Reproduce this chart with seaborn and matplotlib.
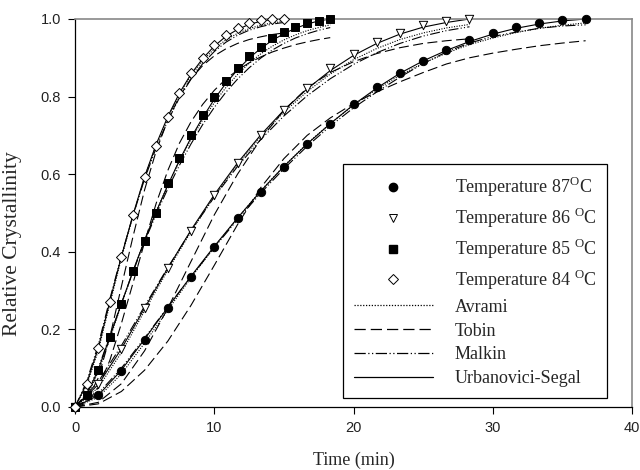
import numpy as np
import pandas as pd
import matplotlib
matplotlib.use("Agg")
import matplotlib.pyplot as plt
from matplotlib.lines import Line2D
import seaborn as sns

# ---------------- data ----------------
t87 = [0, 1.67, 3.33, 5.0, 6.67, 8.33, 10.0, 11.67, 13.33, 15.0, 16.67, 18.33, 20.0,
       21.67, 23.33, 25.0, 26.67, 28.33, 30.0, 31.67, 33.33, 35.0, 36.67]
x87 = [0, .031, .094, .173, .256, .336, .413, .486, .555, .619, .678, .729, .781,
       .824, .862, .893, .920, .946, .965, .980, .990, .997, 1.0]
avr87 = [0, .025, .085, .165, .250, .333, .412, .487, .557, .621, .679, .731, .778,
         .819, .855, .886, .912, .934, .951, .965, .976, .984, .990]
tob87 = [0, .008, .040, .095, .170, .262, .365, .470, .565, .640, .700, .745, .782,
         .812, .838, .862, .884, .900, .912, .922, .931, .938, .944]
mal87 = [0, .035, .100, .178, .258, .336, .411, .483, .551, .614, .672, .724, .771,
         .812, .850, .885, .915, .938, .955, .966, .976, .982, .985]
us87 = [0, .030, .095, .175, .257, .337, .414, .487, .556, .620, .678, .730, .779,
        .822, .860, .892, .919, .942, .961, .976, .987, .995, 1.0]

t86 = [0, 1.67, 3.33, 5.0, 6.67, 8.33, 10.0, 11.67, 13.33, 15.0, 16.67, 18.33, 20.0,
       21.67, 23.33, 25.0, 26.67, 28.33]
x86 = [0, .060, .149, .254, .357, .454, .546, .628, .700, .765, .821, .873, .911,
       .942, .965, .985, .995, 1.0]
avr86 = [0, .050, .140, .248, .353, .452, .543, .625, .697, .760, .813, .858, .895,
         .924, .947, .964, .977, .986]
tob86 = [0, .012, .060, .145, .255, .375, .495, .600, .690, .765, .822, .862, .890,
         .911, .926, .937, .944, .949]
mal86 = [0, .065, .158, .260, .360, .454, .541, .620, .689, .750, .802, .846, .883,
         .913, .937, .956, .970, .980]
us86 = [0, .058, .150, .255, .358, .456, .547, .629, .701, .765, .820, .867, .906,
        .937, .961, .979, .991, 1.0]

t85 = [0, .83, 1.67, 2.5, 3.33, 4.17, 5.0, 5.83, 6.67, 7.5, 8.33, 9.17, 10.0, 10.83,
       11.67, 12.5, 13.33, 14.17, 15.0, 15.83, 16.67, 17.5, 18.33]
x85 = [0, .030, .095, .180, .265, .351, .429, .500, .578, .641, .701, .753, .798,
       .840, .873, .905, .929, .950, .967, .980, .990, .996, 1.0]
avr85 = [0, .026, .090, .176, .264, .350, .430, .504, .572, .634, .690, .740, .784,
         .823, .857, .886, .910, .930, .946, .959, .970, .978, .985]
tob85 = [0, .010, .050, .120, .215, .320, .425, .525, .610, .680, .735, .780, .816,
         .845, .868, .887, .902, .915, .925, .934, .941, .947, .952]
mal85 = [0, .034, .100, .183, .267, .349, .426, .497, .563, .623, .678, .728, .772,
         .811, .845, .874, .899, .920, .937, .951, .962, .971, .978]
us85 = [0, .030, .096, .181, .266, .351, .430, .503, .572, .636, .694, .746, .793,
        .834, .869, .899, .924, .945, .962, .976, .987, .995, 1.0]

t84 = [0, .83, 1.67, 2.5, 3.33, 4.17, 5.0, 5.83, 6.67, 7.5, 8.33, 9.17, 10.0, 10.83,
       11.67, 12.5, 13.33, 14.17, 15.0]
x84 = [0, .060, .151, .271, .386, .495, .594, .673, .748, .808, .860, .899, .933,
       .959, .976, .989, .997, 1.0, 1.0]
avr84 = [0, .055, .145, .265, .383, .493, .592, .675, .746, .806, .854, .893, .923,
         .946, .963, .975, .984, .990, .994]
tob84 = [0, .015, .075, .180, .310, .440, .560, .660, .740, .800, .846, .880, .905,
         .923, .937, .947, .954, .960, .964]
mal84 = [0, .065, .160, .278, .390, .494, .588, .668, .738, .797, .845, .885, .916,
         .940, .958, .971, .980, .987, .991]
us84 = [0, .060, .152, .272, .388, .496, .594, .677, .749, .809, .858, .898, .930,
        .955, .973, .986, .994, .999, 1.0]

x_ticks = [0, 10, 20, 30, 40]
y_ticks = [0.0, 0.2, 0.4, 0.6, 0.8, 1.0]
model_names = ["Avrami", "Tobin", "Malkin", "Urbanovici-Segal"]
temp_labels = ["Temperature 87$^{\\mathrm{O}}$C", "Temperature 86 $^{\\mathrm{O}}$C",
               "Temperature 85 $^{\\mathrm{O}}$C", "Temperature 84 $^{\\mathrm{O}}$C"]

# ---------------- style ----------------
sns.set_theme(style="white")
plt.rcParams["font.family"] = ["Liberation Sans", "DejaVu Sans"]
plt.rcParams["mathtext.fontset"] = "custom"
plt.rcParams["mathtext.rm"] = "Liberation Serif"

fig = plt.figure(figsize=(6.4, 4.7), dpi=100)
ax = fig.add_axes([75 / 640, 1 - 407 / 470, 557 / 640, 388 / 470])

styles = {
    "Avrami": (0, (1.0, 1.3)),
    "Tobin": (0, (9, 4)),
    "Malkin": (0, (9, 2, 1, 2, 1, 2)),
    "Urbanovici-Segal": "-",
}

series = [
    (t87, x87, [avr87, tob87, mal87, us87], "o", "black", 36),
    (t86, x86, [avr86, tob86, mal86, us86], "v", "white", 36),
    (t85, x85, [avr85, tob85, mal85, us85], "s", "black", 30),
    (t84, x84, [avr84, tob84, mal84, us84], "D", "white", 26),
]

for t, xd, models, mk, fc, sz in series:
    for name, yv in zip(model_names, models):
        df = pd.DataFrame({"t": t, "y": yv})
        sns.lineplot(data=df, x="t", y="y", ax=ax, color="black", lw=0.8,
                     linestyle=styles[name], estimator=None, sort=False, zorder=2)
    dfp = pd.DataFrame({"t": t, "y": xd})
    sns.scatterplot(data=dfp, x="t", y="y", ax=ax, marker=mk, s=sz,
                    facecolor=fc, edgecolor="black", linewidth=0.7,
                    zorder=3, clip_on=False)

ax.set_xlim(0, 40)
ax.set_ylim(0, 1.0)
ax.set_xticks(x_ticks)
ax.set_xticklabels([str(v) for v in x_ticks])
ax.set_yticks(y_ticks)
ax.set_yticklabels([f"{v:.1f}" for v in y_ticks])
ax.tick_params(axis="both", direction="out", length=5, width=0.8, color="black",
               labelsize=10.5, labelcolor="#222222", pad=5, bottom=True, left=True)
ax.set_xlabel("Time (min)", family=["Liberation Serif"], fontsize=13, labelpad=12)
ax.set_ylabel("Relative Crystallinity", family=["Liberation Serif"], fontsize=15.5)
ax.yaxis.set_label_coords(-0.096, 0.42)
for side in ["left", "bottom"]:
    ax.spines[side].set_color("black")
    ax.spines[side].set_linewidth(0.9)
for side in ["top", "right"]:
    ax.spines[side].set_color("#888888")
    ax.spines[side].set_linewidth(1.2)
ax.grid(False)

handles = [
    Line2D([], [], marker="o", ls="none", mfc="black", mec="black", ms=6),
    Line2D([], [], marker="v", ls="none", mfc="white", mec="black", ms=6, mew=0.7),
    Line2D([], [], marker="s", ls="none", mfc="black", mec="black", ms=5.5),
    Line2D([], [], marker="D", ls="none", mfc="white", mec="black", ms=5, mew=0.7),
]
for name in model_names:
    handles.append(Line2D([], [], color="black", lw=0.9, linestyle=styles[name]))
labels = temp_labels + model_names

leg = ax.legend(handles, labels, loc="lower left", bbox_to_anchor=(0.481, 0.023),
                frameon=True, fancybox=False, edgecolor="black", framealpha=1,
                prop={"family": "Liberation Serif", "size": 13},
                handlelength=4.4, handletextpad=1.2, labelspacing=0.38,
                borderpad=0.6, borderaxespad=0)
leg.get_frame().set_linewidth(0.9)

fig.savefig("out.png", dpi=100)
